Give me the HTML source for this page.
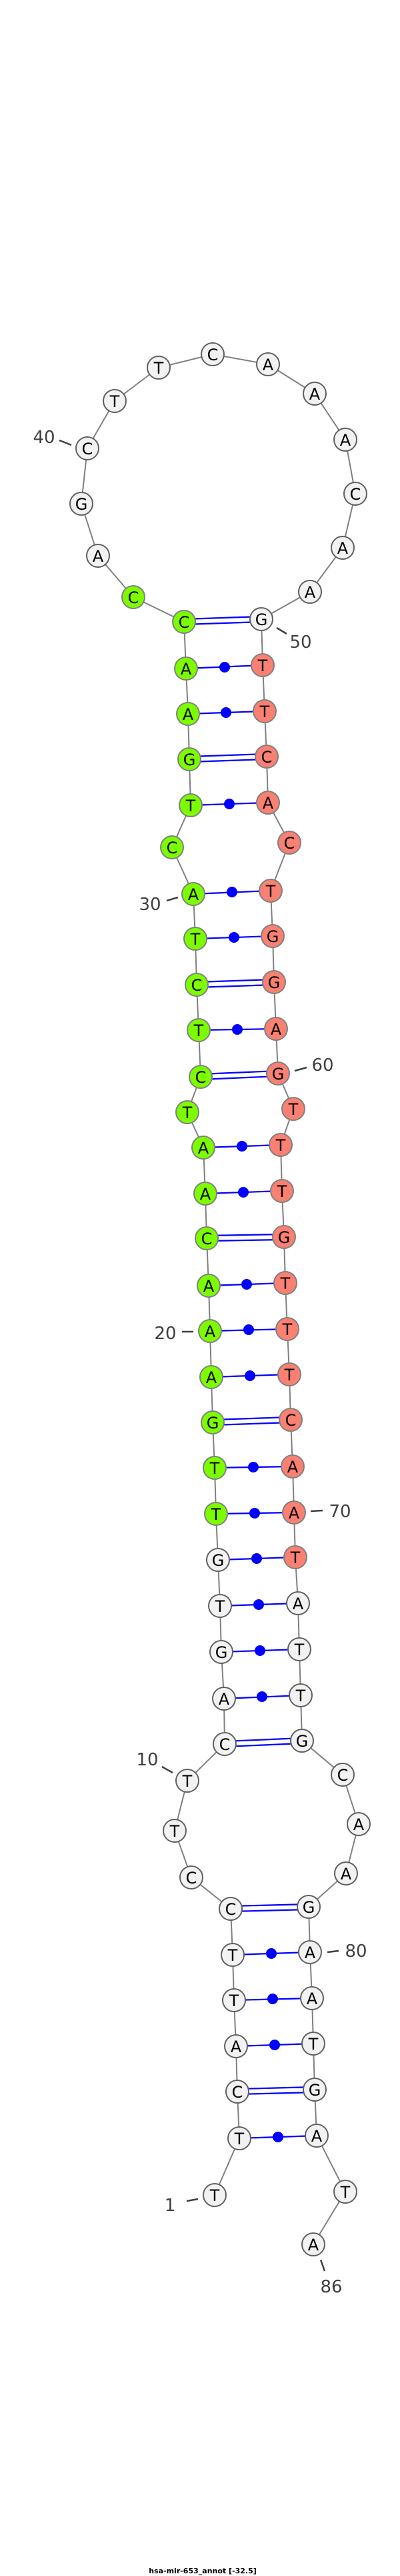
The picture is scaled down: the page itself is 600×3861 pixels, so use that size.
<!DOCTYPE html>
<html><head><meta charset="utf-8"><style>
html,body{margin:0;padding:0;background:#fff;}
svg{display:block;}
.b{stroke:#808080;stroke-width:2;fill:none;}
.p{stroke:#0000ff;stroke-width:2.2;}
.d{fill:#0000ff;}
.g{fill:#7cfc00;stroke:#808080;stroke-width:2;}
.r{fill:#fa8072;stroke:#808080;stroke-width:2;}
.w{fill:#f2f2f2;stroke:#606060;stroke-width:2;}
.t{font-family:"DejaVu Sans","Liberation Sans",sans-serif;font-size:24px;fill:#000;text-anchor:middle;}
.n{font-family:"DejaVu Sans","Liberation Sans",sans-serif;font-size:26px;fill:#404040;text-anchor:middle;}
.k{stroke:#404040;stroke-width:2.5;}
</style></head><body>
<svg width="600" height="3861" viewBox="0 0 600 3861" xmlns="http://www.w3.org/2000/svg">
<polyline class="b" points="322,3290 359,3205 356,3135 354,3067 351,2998 349,2930 346,2861 287,2814 262,2744 281,2669 337,2614 336,2546 332,2476 330,2407 327,2338 324,2269 322,2200 319,2132 317,2064 315,1995 313,1927 310,1856 308,1789 305,1720 281,1667 301,1614 298,1544 295,1476 293,1407 290,1340 258,1270 286,1207 284,1138 282,1070 279,1002 276,932 200,895 147,833 122,755 131,672 172,601 238,551 319,531 402,546 472,590 518,659 533,740 514,821 465,887 392,928 394,997 397,1066 400,1134 402,1203 434,1263 406,1335 409,1403 411,1472 414,1542 417,1609 440,1662 421,1716 423,1785 426,1854 428,1923 431,1992 434,2060 436,2128 439,2198 441,2267 443,2334 447,2403 449,2472 451,2541 453,2609 514,2660 538,2734 519,2808 463,2858 465,2926 468,2995 470,3063 472,3132 475,3201 518,3285 470,3364"/>
<!-- double pairs -->
<g class="p">
<line x1="346" y1="2857" x2="463" y2="2854"/><line x1="346" y1="2865" x2="463" y2="2862"/>
<line x1="356" y1="3131" x2="472" y2="3128"/><line x1="356" y1="3139" x2="472" y2="3136"/>
<line x1="337" y1="2610" x2="453" y2="2605"/><line x1="337" y1="2618" x2="453" y2="2613"/>
<line x1="319" y1="2128" x2="436" y2="2124"/><line x1="319" y1="2136" x2="436" y2="2132"/>
<line x1="310" y1="1852" x2="426" y2="1850"/><line x1="310" y1="1860" x2="426" y2="1858"/>
<line x1="301" y1="1610" x2="417" y2="1605"/><line x1="301" y1="1618" x2="417" y2="1613"/>
<line x1="295" y1="1472" x2="411" y2="1468"/><line x1="295" y1="1480" x2="411" y2="1476"/>
<line x1="284" y1="1134" x2="400" y2="1130"/><line x1="284" y1="1142" x2="400" y2="1138"/>
<line x1="276" y1="928" x2="392" y2="924"/><line x1="276" y1="936" x2="392" y2="932"/>
<!-- single pairs -->
<line x1="349" y1="2930" x2="465" y2="2926"/><line x1="351" y1="2998" x2="468" y2="2995"/>
<line x1="354" y1="3067" x2="470" y2="3063"/><line x1="359" y1="3205" x2="475" y2="3201"/>
<line x1="336" y1="2546" x2="451" y2="2541"/><line x1="332" y1="2476" x2="449" y2="2472"/>
<line x1="330" y1="2407" x2="447" y2="2403"/><line x1="327" y1="2338" x2="443" y2="2334"/>
<line x1="324" y1="2269" x2="441" y2="2267"/><line x1="322" y1="2200" x2="439" y2="2198"/>
<line x1="317" y1="2064" x2="434" y2="2060"/><line x1="315" y1="1995" x2="431" y2="1992"/>
<line x1="313" y1="1927" x2="428" y2="1923"/><line x1="308" y1="1789" x2="423" y2="1785"/>
<line x1="305" y1="1720" x2="421" y2="1716"/><line x1="298" y1="1544" x2="414" y2="1542"/>
<line x1="293" y1="1407" x2="409" y2="1403"/><line x1="290" y1="1340" x2="406" y2="1335"/>
<line x1="286" y1="1207" x2="402" y2="1203"/><line x1="282" y1="1070" x2="397" y2="1066"/>
<line x1="279" y1="1002" x2="394" y2="997"/>
</g>
<g class="d">
<circle cx="407" cy="2928" r="8"/><circle cx="409" cy="2996" r="8"/><circle cx="412" cy="3065" r="8"/><circle cx="417" cy="3203" r="8"/>
<circle cx="393" cy="2543" r="8"/><circle cx="390" cy="2474" r="8"/><circle cx="388" cy="2405" r="8"/><circle cx="385" cy="2336" r="8"/>
<circle cx="382" cy="2268" r="8"/><circle cx="380" cy="2199" r="8"/><circle cx="375" cy="2062" r="8"/><circle cx="373" cy="1993" r="8"/>
<circle cx="370" cy="1925" r="8"/><circle cx="365" cy="1787" r="8"/><circle cx="363" cy="1718" r="8"/><circle cx="356" cy="1543" r="8"/>
<circle cx="351" cy="1405" r="8"/><circle cx="348" cy="1337" r="8"/><circle cx="344" cy="1205" r="8"/><circle cx="339" cy="1068" r="8"/>
<circle cx="337" cy="1000" r="8"/>
</g>
<!-- nodes -->
<g>
<circle class="w" cx="322" cy="3290" r="17"/><text class="t" x="322" y="3299">T</text>
<circle class="w" cx="359" cy="3205" r="17"/><text class="t" x="359" y="3214">T</text>
<circle class="w" cx="356" cy="3135" r="17"/><text class="t" x="356" y="3144">C</text>
<circle class="w" cx="354" cy="3067" r="17"/><text class="t" x="354" y="3076">A</text>
<circle class="w" cx="351" cy="2998" r="17"/><text class="t" x="351" y="3007">T</text>
<circle class="w" cx="349" cy="2930" r="17"/><text class="t" x="349" y="2939">T</text>
<circle class="w" cx="346" cy="2861" r="17"/><text class="t" x="346" y="2870">C</text>
<circle class="w" cx="287" cy="2814" r="17"/><text class="t" x="287" y="2823">C</text>
<circle class="w" cx="262" cy="2744" r="17"/><text class="t" x="262" y="2753">T</text>
<circle class="w" cx="281" cy="2669" r="17"/><text class="t" x="281" y="2678">T</text>
<circle class="w" cx="337" cy="2614" r="17"/><text class="t" x="337" y="2623">C</text>
<circle class="w" cx="336" cy="2546" r="17"/><text class="t" x="336" y="2555">A</text>
<circle class="w" cx="332" cy="2476" r="17"/><text class="t" x="332" y="2485">G</text>
<circle class="w" cx="330" cy="2407" r="17"/><text class="t" x="330" y="2416">T</text>
<circle class="w" cx="327" cy="2338" r="17"/><text class="t" x="327" y="2347">G</text>
<circle class="g" cx="324" cy="2269" r="17"/><text class="t" x="324" y="2278">T</text>
<circle class="g" cx="322" cy="2200" r="17"/><text class="t" x="322" y="2209">T</text>
<circle class="g" cx="319" cy="2132" r="17"/><text class="t" x="319" y="2141">G</text>
<circle class="g" cx="317" cy="2064" r="17"/><text class="t" x="317" y="2073">A</text>
<circle class="g" cx="315" cy="1995" r="17"/><text class="t" x="315" y="2004">A</text>
<circle class="g" cx="313" cy="1927" r="17"/><text class="t" x="313" y="1936">A</text>
<circle class="g" cx="310" cy="1856" r="17"/><text class="t" x="310" y="1865">C</text>
<circle class="g" cx="308" cy="1789" r="17"/><text class="t" x="308" y="1798">A</text>
<circle class="g" cx="305" cy="1720" r="17"/><text class="t" x="305" y="1729">A</text>
<circle class="g" cx="281" cy="1667" r="17"/><text class="t" x="281" y="1676">T</text>
<circle class="g" cx="301" cy="1614" r="17"/><text class="t" x="301" y="1623">C</text>
<circle class="g" cx="298" cy="1544" r="17"/><text class="t" x="298" y="1553">T</text>
<circle class="g" cx="295" cy="1476" r="17"/><text class="t" x="295" y="1485">C</text>
<circle class="g" cx="293" cy="1407" r="17"/><text class="t" x="293" y="1416">T</text>
<circle class="g" cx="290" cy="1340" r="17"/><text class="t" x="290" y="1349">A</text>
<circle class="g" cx="258" cy="1270" r="17"/><text class="t" x="258" y="1279">C</text>
<circle class="g" cx="286" cy="1207" r="17"/><text class="t" x="286" y="1216">T</text>
<circle class="g" cx="284" cy="1138" r="17"/><text class="t" x="284" y="1147">G</text>
<circle class="g" cx="282" cy="1070" r="17"/><text class="t" x="282" y="1079">A</text>
<circle class="g" cx="279" cy="1002" r="17"/><text class="t" x="279" y="1011">A</text>
<circle class="g" cx="276" cy="932" r="17"/><text class="t" x="276" y="941">C</text>
<circle class="g" cx="200" cy="895" r="17"/><text class="t" x="200" y="904">C</text>
<circle class="w" cx="147" cy="833" r="17"/><text class="t" x="147" y="842">A</text>
<circle class="w" cx="122" cy="755" r="17"/><text class="t" x="122" y="764">G</text>
<circle class="w" cx="131" cy="672" r="17"/><text class="t" x="131" y="681">C</text>
<circle class="w" cx="172" cy="601" r="17"/><text class="t" x="172" y="610">T</text>
<circle class="w" cx="238" cy="551" r="17"/><text class="t" x="238" y="560">T</text>
<circle class="w" cx="319" cy="531" r="17"/><text class="t" x="319" y="540">C</text>
<circle class="w" cx="402" cy="546" r="17"/><text class="t" x="402" y="555">A</text>
<circle class="w" cx="472" cy="590" r="17"/><text class="t" x="472" y="599">A</text>
<circle class="w" cx="518" cy="659" r="17"/><text class="t" x="518" y="668">A</text>
<circle class="w" cx="533" cy="740" r="17"/><text class="t" x="533" y="749">C</text>
<circle class="w" cx="514" cy="821" r="17"/><text class="t" x="514" y="830">A</text>
<circle class="w" cx="465" cy="887" r="17"/><text class="t" x="465" y="896">A</text>
<circle class="w" cx="392" cy="928" r="17"/><text class="t" x="392" y="937">G</text>
<circle class="r" cx="394" cy="997" r="17"/><text class="t" x="394" y="1006">T</text>
<circle class="r" cx="397" cy="1066" r="17"/><text class="t" x="397" y="1075">T</text>
<circle class="r" cx="400" cy="1134" r="17"/><text class="t" x="400" y="1143">C</text>
<circle class="r" cx="402" cy="1203" r="17"/><text class="t" x="402" y="1212">A</text>
<circle class="r" cx="434" cy="1263" r="17"/><text class="t" x="434" y="1272">C</text>
<circle class="r" cx="406" cy="1335" r="17"/><text class="t" x="406" y="1344">T</text>
<circle class="r" cx="409" cy="1403" r="17"/><text class="t" x="409" y="1412">G</text>
<circle class="r" cx="411" cy="1472" r="17"/><text class="t" x="411" y="1481">G</text>
<circle class="r" cx="414" cy="1542" r="17"/><text class="t" x="414" y="1551">A</text>
<circle class="r" cx="417" cy="1609" r="17"/><text class="t" x="417" y="1618">G</text>
<circle class="r" cx="440" cy="1662" r="17"/><text class="t" x="440" y="1671">T</text>
<circle class="r" cx="421" cy="1716" r="17"/><text class="t" x="421" y="1725">T</text>
<circle class="r" cx="423" cy="1785" r="17"/><text class="t" x="423" y="1794">T</text>
<circle class="r" cx="426" cy="1854" r="17"/><text class="t" x="426" y="1863">G</text>
<circle class="r" cx="428" cy="1923" r="17"/><text class="t" x="428" y="1932">T</text>
<circle class="r" cx="431" cy="1992" r="17"/><text class="t" x="431" y="2001">T</text>
<circle class="r" cx="434" cy="2060" r="17"/><text class="t" x="434" y="2069">T</text>
<circle class="r" cx="436" cy="2128" r="17"/><text class="t" x="436" y="2137">C</text>
<circle class="r" cx="439" cy="2198" r="17"/><text class="t" x="439" y="2207">A</text>
<circle class="r" cx="441" cy="2267" r="17"/><text class="t" x="441" y="2276">A</text>
<circle class="r" cx="443" cy="2334" r="17"/><text class="t" x="443" y="2343">T</text>
<circle class="w" cx="447" cy="2403" r="17"/><text class="t" x="447" y="2412">A</text>
<circle class="w" cx="449" cy="2472" r="17"/><text class="t" x="449" y="2481">T</text>
<circle class="w" cx="451" cy="2541" r="17"/><text class="t" x="451" y="2550">T</text>
<circle class="w" cx="453" cy="2609" r="17"/><text class="t" x="453" y="2618">G</text>
<circle class="w" cx="514" cy="2660" r="17"/><text class="t" x="514" y="2669">C</text>
<circle class="w" cx="538" cy="2734" r="17"/><text class="t" x="538" y="2743">A</text>
<circle class="w" cx="519" cy="2808" r="17"/><text class="t" x="519" y="2817">A</text>
<circle class="w" cx="463" cy="2858" r="17"/><text class="t" x="463" y="2867">G</text>
<circle class="w" cx="465" cy="2926" r="17"/><text class="t" x="465" y="2935">A</text>
<circle class="w" cx="468" cy="2995" r="17"/><text class="t" x="468" y="3004">A</text>
<circle class="w" cx="470" cy="3063" r="17"/><text class="t" x="470" y="3072">T</text>
<circle class="w" cx="472" cy="3132" r="17"/><text class="t" x="472" y="3141">G</text>
<circle class="w" cx="475" cy="3201" r="17"/><text class="t" x="475" y="3210">A</text>
<circle class="w" cx="518" cy="3285" r="17"/><text class="t" x="518" y="3294">T</text>
<circle class="w" cx="470" cy="3364" r="17"/><text class="t" x="470" y="3373">A</text>
</g>
<!-- number labels -->
<line class="k" x1="280" y1="3299" x2="297" y2="3296"/><text class="n" x="255" y="3314">1</text>
<line class="k" x1="243" y1="2648" x2="259" y2="2657"/><text class="n" x="221" y="2646">10</text>
<line class="k" x1="273" y1="1996" x2="290" y2="1996"/><text class="n" x="248" y="2007">20</text>
<line class="k" x1="250" y1="1350" x2="267" y2="1345"/><text class="n" x="225" y="1364">30</text>
<line class="k" x1="89" y1="660" x2="107" y2="667"/><text class="n" x="66" y="664">40</text>
<line class="k" x1="415" y1="941" x2="430" y2="950"/><text class="n" x="451" y="971">50</text>
<line class="k" x1="442" y1="1605" x2="460" y2="1600"/><text class="n" x="484" y="1605">60</text>
<line class="k" x1="466" y1="2265" x2="484" y2="2264"/><text class="n" x="510" y="2274">70</text>
<line class="k" x1="491" y1="2926" x2="508" y2="2924"/><text class="n" x="534" y="2933">80</text>
<line class="k" x1="481" y1="3387" x2="487" y2="3404"/><text class="n" x="497" y="3436">86</text>
<text x="304" y="3857" style="font-family:'DejaVu Sans','Liberation Sans',sans-serif;font-size:11px;font-weight:bold;fill:#000;text-anchor:middle;">hsa-mir-653_annot [-32.5]</text>
</svg>
</body></html>
